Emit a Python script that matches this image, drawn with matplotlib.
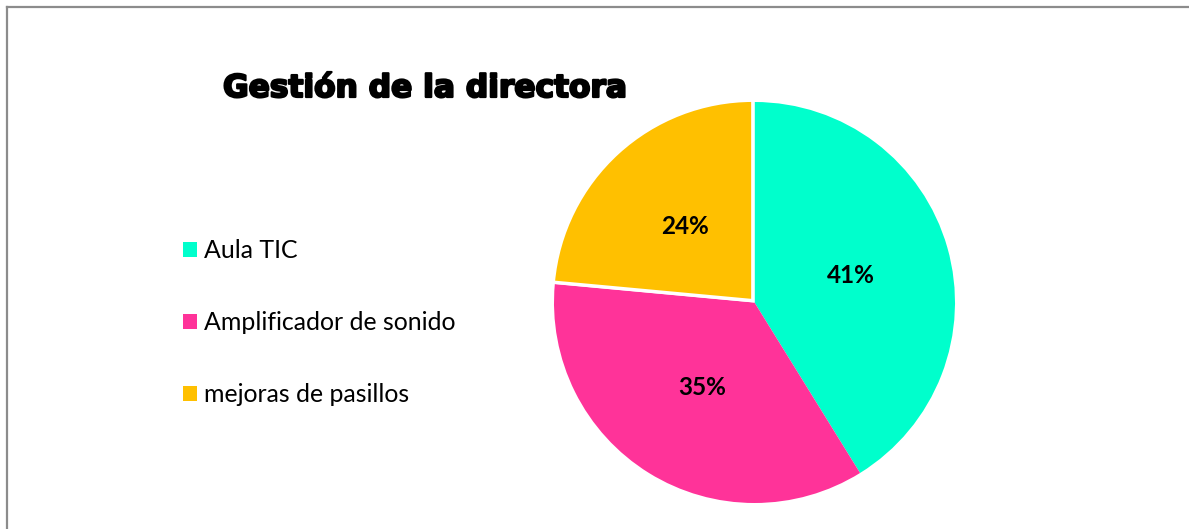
import matplotlib
matplotlib.use("Agg")
import matplotlib.pyplot as plt
from matplotlib.lines import Line2D
from matplotlib.patches import Patch
import matplotlib.patheffects as pe

# data (counts that give 41 / 35 / 24 %)
labels = ["Aula TIC", "Amplificador de sonido", "mejoras de pasillos"]
counts = [7, 6, 4]
colors = ["#00FFCC", "#FF3399", "#FFC000"]
title = "Gestión de la directora"

W, H = 1189, 529
fig = plt.figure(figsize=(W / 100, H / 100), dpi=100)

# pie axes: centre ~(754, 302) px, radius ~200 px
cx, cy, r = 754.5, 302.5, 200.5
ax = fig.add_axes([(cx - r) / W, (H - cy - r) / H, 2 * r / W, 2 * r / H])
wedges, _, autotexts = ax.pie(
    counts, colors=colors, startangle=90, counterclock=False,
    explode=[0, 0, 0.012],
    autopct="%1.0f%%", pctdistance=0.5,
    wedgeprops=dict(linewidth=0),
    textprops=dict(fontsize=17.5, fontweight="bold", family="Lato", color="black"),
)
# the small slice carries a white outline in the original
wedges[2].set_edgecolor("white")
wedges[2].set_linewidth(2.5)
ax.set_xlim(-1, 1)
ax.set_ylim(-1, 1)
ax.set_aspect("equal")

fig.text(223 / W, 1 - 97 / H, title, fontsize=22.5, fontweight="heavy",
         family="DejaVu Sans", ha="left", va="baseline",
         path_effects=[pe.withStroke(linewidth=1.6, foreground="black")])

handles = [Patch(facecolor=c, edgecolor="none") for c in colors]
fig.legend(handles, labels, loc="upper left",
           bbox_to_anchor=(183 / W, 1 - 239 / H),
           frameon=False, prop=dict(family="Lato", size=17.9),
           handlelength=0.56, handleheight=0.56, handletextpad=0.3,
           labelspacing=1.97, borderpad=0, borderaxespad=0)

# chart frame, only left and top edges visible
fig.add_artist(Line2D([7 / W, 7 / W], [0, 1 - 7 / H], transform=fig.transFigure,
                      color="#8c8c8c", linewidth=1.6))
fig.add_artist(Line2D([7 / W, 1], [1 - 7 / H, 1 - 7 / H], transform=fig.transFigure,
                      color="#8c8c8c", linewidth=1.6))

fig.savefig("out.png", dpi=100)
